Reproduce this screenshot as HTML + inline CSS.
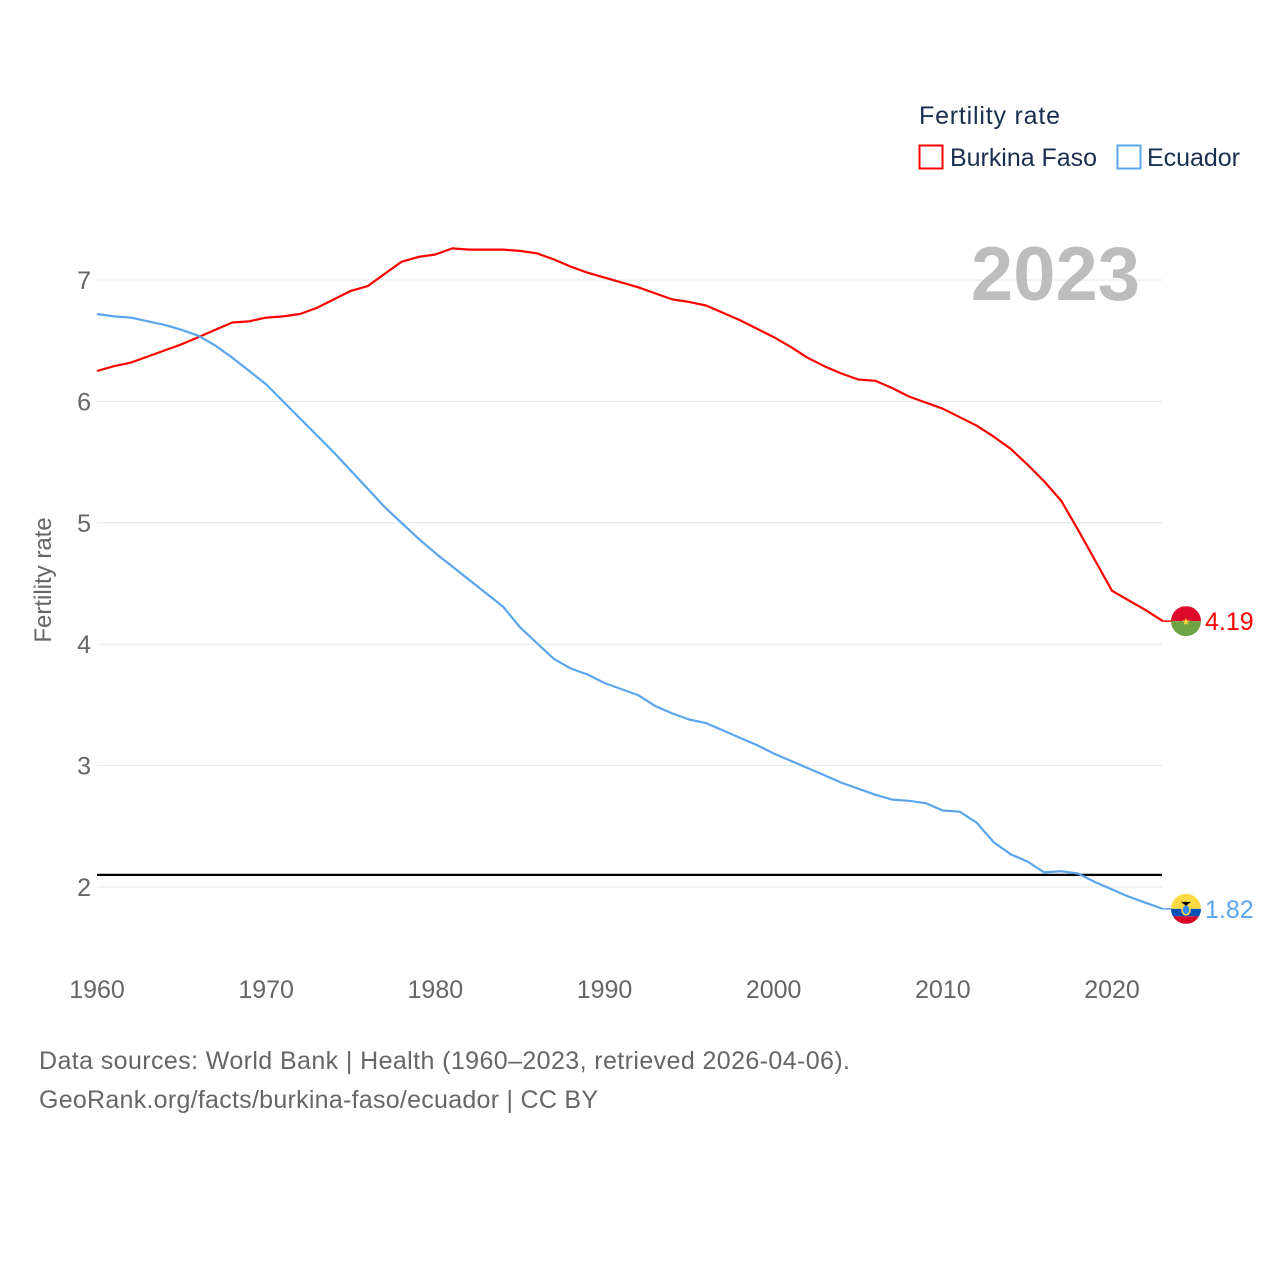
<!DOCTYPE html>
<html><head><meta charset="utf-8">
<style>
html,body{margin:0;padding:0;background:#fff;}
body{width:1280px;height:1280px;overflow:hidden;font-family:"Liberation Sans",sans-serif;}
svg text{font-family:"Liberation Sans",sans-serif;}
</style></head>
<body>
<svg id="chart" width="1280" height="1280" xmlns="http://www.w3.org/2000/svg">
<g id="grid"></g>
<g id="yticks"></g>
<g id="xticks"></g>
<text x="0" y="0" transform="translate(51,580) rotate(-90)" text-anchor="middle" font-size="24" fill="#666">Fertility rate</text>
<text x="1140" y="300" text-anchor="end" font-size="76" font-weight="bold" fill="#bdbdbd">2023</text>
<line id="refline" x1="97" x2="1162" stroke="#000" stroke-width="2.2"/>
<g id="series"></g>
<g>
<text x="919" y="124" font-size="25" fill="#1a2e50" textLength="141">Fertility rate</text>
<rect x="919.5" y="145.5" width="23" height="23" fill="none" stroke="#ff0000" stroke-width="2"/>
<text x="950" y="166" font-size="25" fill="#1a2e50" textLength="147">Burkina Faso</text>
<rect x="1117.5" y="145.5" width="23" height="23" fill="none" stroke="#5aa5ee" stroke-width="2"/>
<text x="1147" y="166" font-size="25" fill="#1a2e50" textLength="93">Ecuador</text>
</g>
<g id="ends"></g>
<text x="39" y="1069" font-size="25" fill="#666" textLength="811">Data sources: World Bank | Health (1960–2023, retrieved 2026-04-06).</text>
<text x="39" y="1108" font-size="25" fill="#666" textLength="559">GeoRank.org/facts/burkina-faso/ecuador | CC BY</text>
</svg>
<script>
const years = [];
for (let y = 1960; y <= 2023; y++) years.push(y);
const burkinaFaso = [6.25,6.29,6.32,6.37,6.42,6.47,6.53,6.59,6.65,6.66,6.69,6.70,6.72,6.77,6.84,6.91,6.95,7.05,7.15,7.19,7.21,7.26,7.25,7.25,7.25,7.24,7.22,7.17,7.11,7.06,7.02,6.98,6.94,6.89,6.84,6.82,6.79,6.73,6.67,6.60,6.53,6.45,6.36,6.29,6.23,6.18,6.17,6.11,6.04,5.99,5.94,5.87,5.80,5.71,5.61,5.48,5.34,5.18,4.94,4.69,4.44,4.36,4.28,4.19];
const ecuador = [6.72,6.70,6.69,6.66,6.63,6.59,6.54,6.46,6.36,6.25,6.14,6.00,5.86,5.72,5.58,5.43,5.28,5.13,5.00,4.87,4.75,4.64,4.53,4.42,4.31,4.14,4.01,3.88,3.80,3.75,3.68,3.63,3.58,3.49,3.43,3.38,3.35,3.29,3.23,3.17,3.10,3.04,2.98,2.92,2.86,2.81,2.76,2.72,2.71,2.69,2.63,2.62,2.53,2.37,2.27,2.21,2.12,2.13,2.11,2.04,1.98,1.92,1.87,1.82];
const yTicks = [2,3,4,5,6,7];
const xTicks = [1960,1970,1980,1990,2000,2010,2020];
const replacementRate = [2.1];

const NS = "http://www.w3.org/2000/svg";
const xs = y => 97 + (y - 1960) * (1112 - 97) / 60;
const ys = v => 887 - (v - 2) * 121.4;
function mk(tag, attrs, parent) {
  const e = document.createElementNS(NS, tag);
  for (const k in attrs) e.setAttribute(k, attrs[k]);
  parent.appendChild(e);
  return e;
}
const grid = document.getElementById('grid'), yt = document.getElementById('yticks'), xt = document.getElementById('xticks');
yTicks.forEach(v => {
  const l = mk('line', {x1:97, x2:1162, y1:ys(v), y2:ys(v), stroke:'#e6e6e6', 'stroke-width':1}, grid);
  
  
  const t = mk('text', {x:91, y:ys(v)+9, 'text-anchor':'end', 'font-size':25, fill:'#666'}, yt);
  t.textContent = v;
  
  
});
xTicks.forEach(y => {
  const t = mk('text', {x:xs(y), y:998, 'text-anchor':'middle', 'font-size':25, fill:'#666'}, xt);
  t.textContent = y;
  
  
});
const ref = document.getElementById('refline');
ref.setAttribute('y1', ys(replacementRate[0]));
ref.setAttribute('y2', ys(replacementRate[0]));

const series = document.getElementById('series'), ends = document.getElementById('ends');
function drawSeries(vals, color, name, label) {
  const d = vals.map((v,i) => (i?'L':'M') + xs(years[i]).toFixed(1) + ',' + ys(v).toFixed(1)).join(' ');
  const p = mk('path', {d:d, fill:'none', stroke:color, 'stroke-width':2.2, 'stroke-linejoin':'round'}, series);
  
  
  const last = vals[vals.length-1];
  const yy = ys(last);
  const lx = xs(years[years.length-1]);
  const c = mk('line', {x1:lx, x2:1172, y1:yy, y2:yy, stroke:color, 'stroke-width':1.5}, ends);
  
  
  const t = mk('text', {x:1205, y:yy+9, 'font-size':25, fill:color}, ends);
  t.textContent = label;
  
  
  return yy;
}
const yb = drawSeries(burkinaFaso, '#ff0000', 'burkina-faso', burkinaFaso[burkinaFaso.length-1].toFixed(2));
const ye = drawSeries(ecuador, '#5aa5ee', 'ecuador', ecuador[ecuador.length-1].toFixed(2));

const cx = 1186;
const fb = mk('g', {}, ends);


const cpb = mk('clipPath', {id:'cb'}, fb);
mk('circle', {cx:cx, cy:yb, r:15}, cpb);
const gb = mk('g', {'clip-path':'url(#cb)'}, fb);
mk('rect', {x:cx-15, y:yb-15, width:30, height:15, fill:'#de0a2b'}, gb);
mk('rect', {x:cx-15, y:yb, width:30, height:15, fill:'#6da544'}, gb);
mk('text', {x:cx, y:yb+4, 'text-anchor':'middle', 'font-size':10, fill:'#ffda44'}, gb).textContent = '★';

const fe = mk('g', {}, ends);


const cp = mk('clipPath', {id:'ce'}, fe);
mk('circle', {cx:cx, cy:ye, r:15}, cp);
const ge = mk('g', {'clip-path':'url(#ce)'}, fe);
mk('rect', {x:cx-15, y:ye-15, width:30, height:15, fill:'#ffda44'}, ge);
mk('rect', {x:cx-15, y:ye, width:30, height:7.5, fill:'#0052b4'}, ge);
mk('rect', {x:cx-15, y:ye+7.5, width:30, height:7.5, fill:'#d80027'}, ge);
mk('ellipse', {cx:cx, cy:ye+1, rx:4, ry:5, fill:'#338af3', stroke:'#ffda44', 'stroke-width':1.5}, ge);
mk('path', {d:`M${cx-5},${ye-7} L${cx+5},${ye-7} L${cx},${ye-3}Z`, fill:'#000'}, ge);
</script>
</body></html>
